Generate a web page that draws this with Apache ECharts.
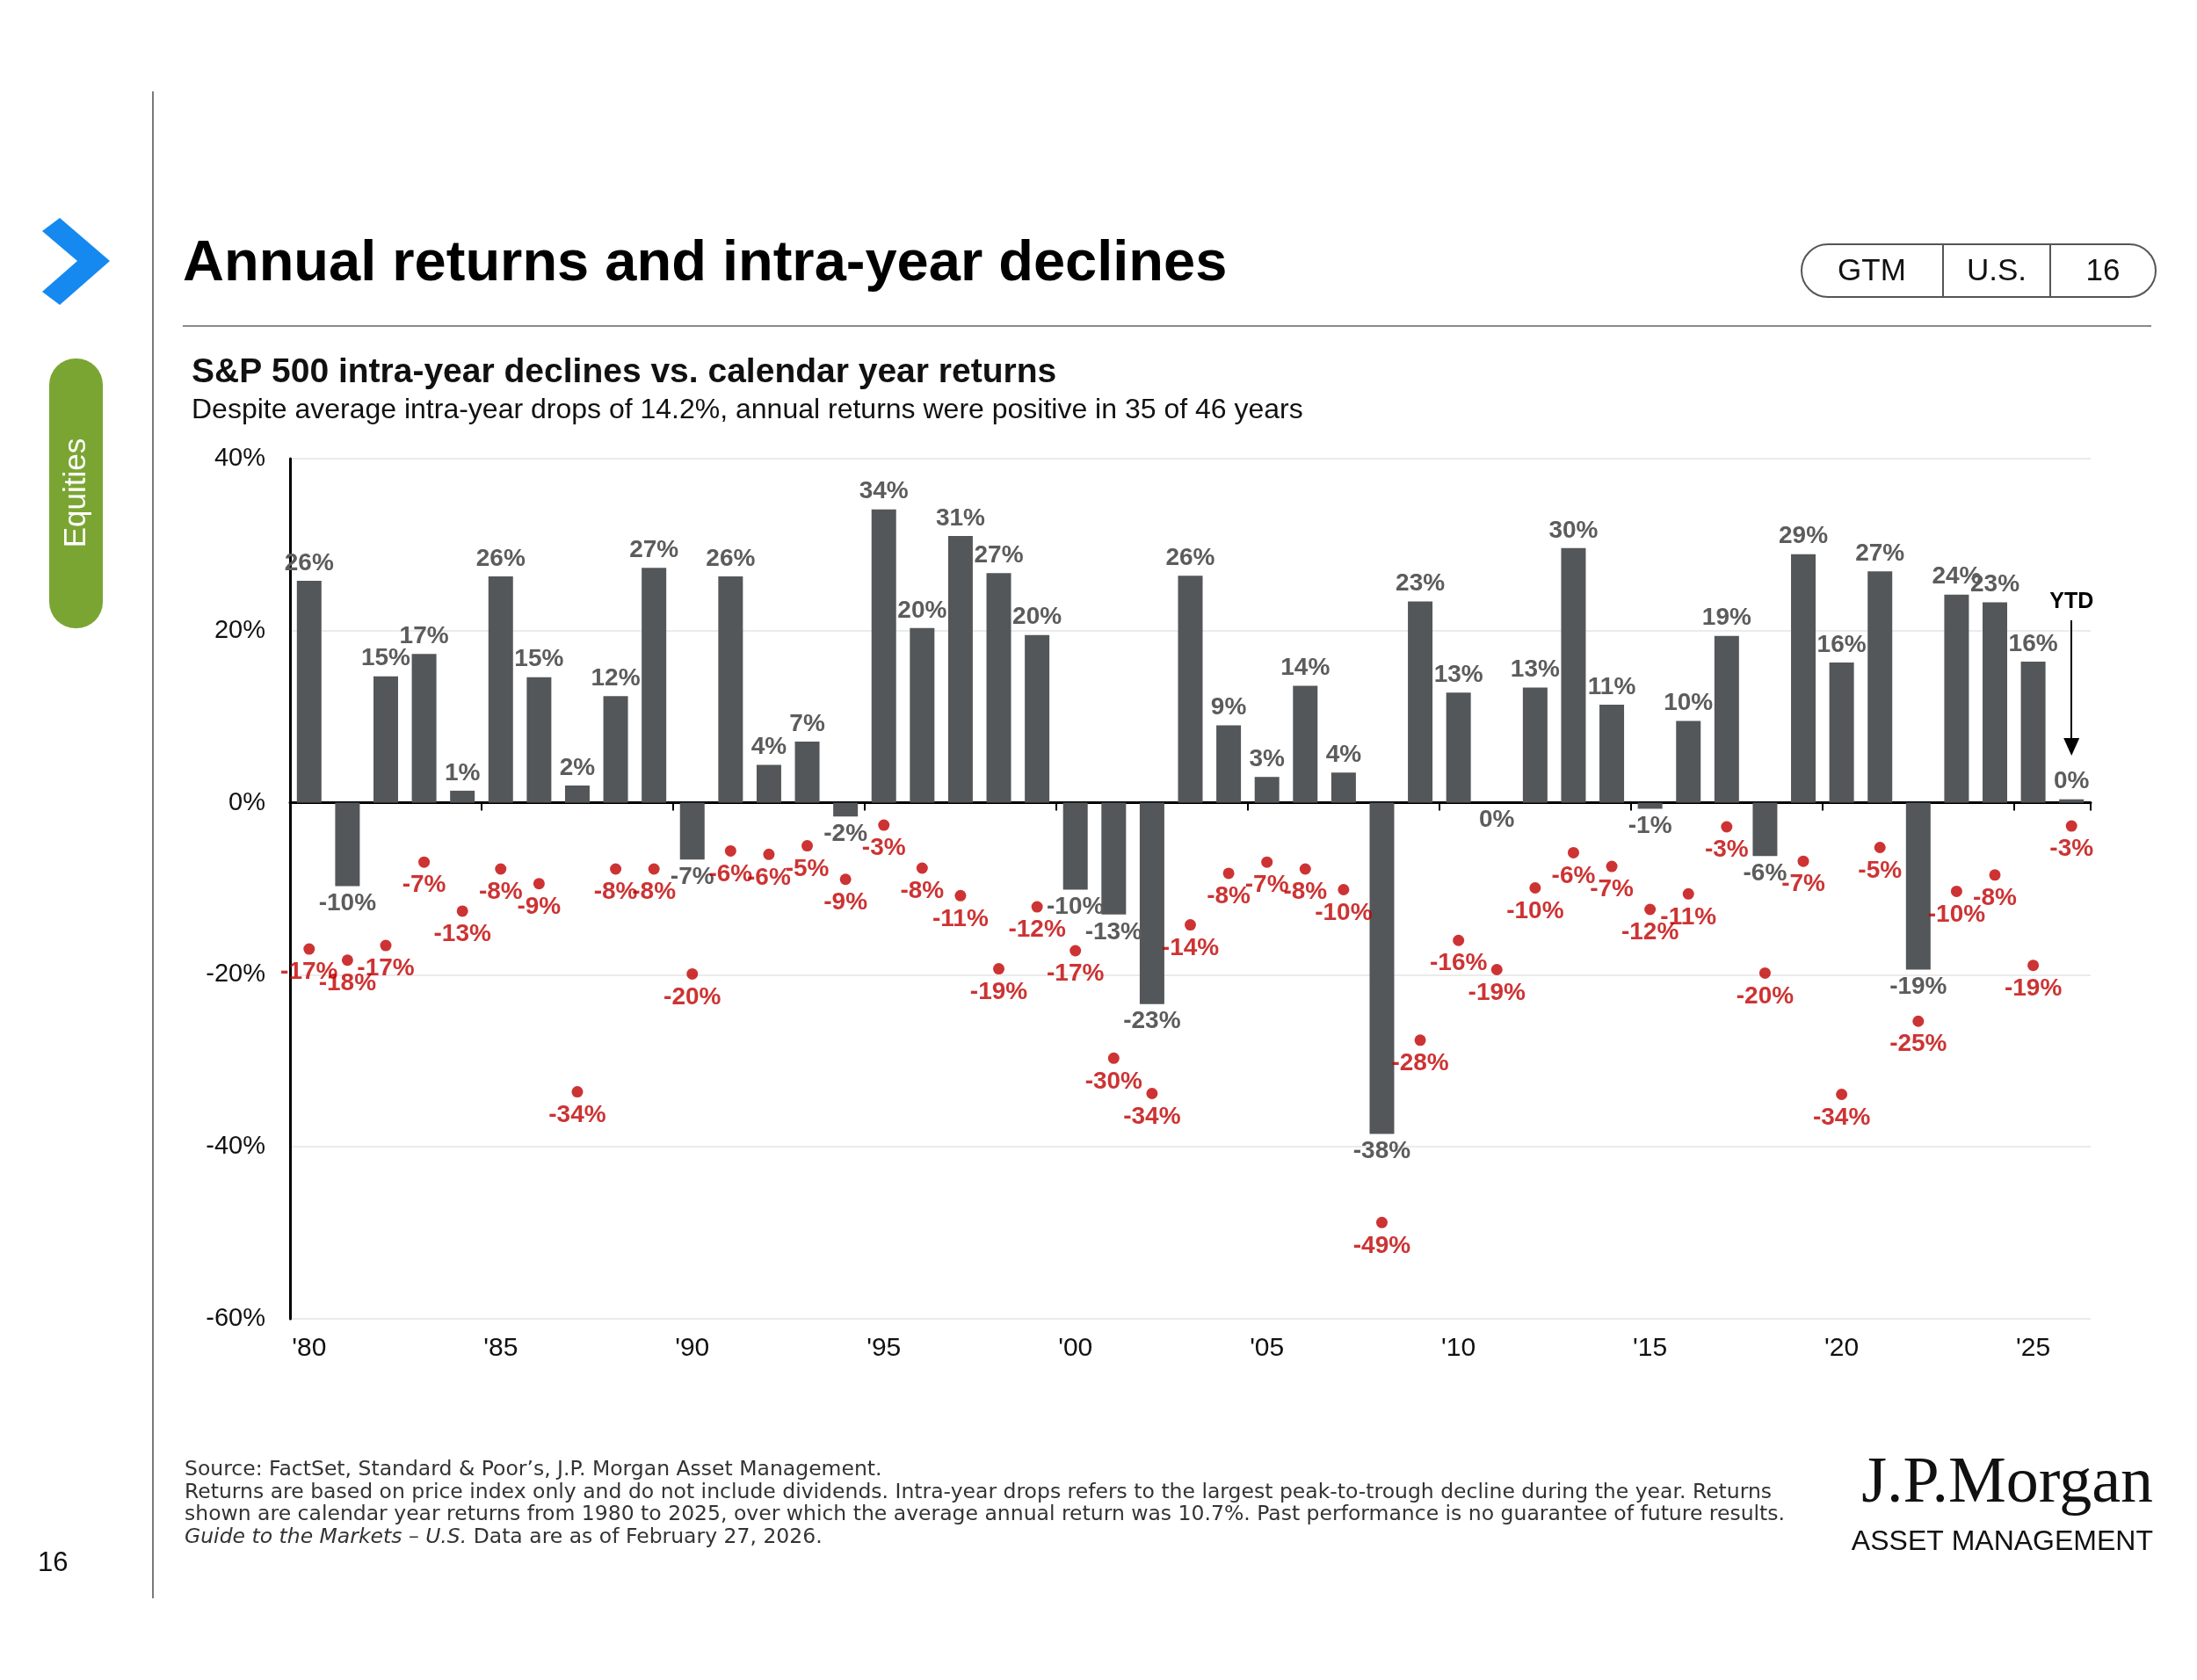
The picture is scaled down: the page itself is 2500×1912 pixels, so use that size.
<!DOCTYPE html>
<html>
<head>
<meta charset="utf-8">
<script src="https://cdn.jsdelivr.net/npm/echarts@6/dist/echarts.min.js"></script>
<style>
html,body{margin:0;padding:0;background:#fff;}
#chart{width:2500px;height:1912px;}
</style>
</head>
<body>
<div id="chart"></div>
<script>
// ---- Data ----
const years = ['1980','1981','1982','1983','1984','1985','1986','1987','1988','1989',
  '1990','1991','1992','1993','1994','1995','1996','1997','1998','1999',
  '2000','2001','2002','2003','2004','2005','2006','2007','2008','2009',
  '2010','2011','2012','2013','2014','2015','2016','2017','2018','2019',
  '2020','2021','2022','2023','2024','2025','2026'];
const annualReturns = [25.8,-9.7,14.7,17.3,1.4,26.3,14.6,2.0,12.4,27.3,
  -6.6,26.3,4.4,7.1,-1.6,34.1,20.3,31.0,26.7,19.5,
  -10.1,-13.0,-23.4,26.4,9.0,3.0,13.6,3.5,-38.5,23.4,
  12.8,0.0,13.4,29.6,11.4,-0.7,9.5,19.4,-6.2,28.9,
  16.3,26.9,-19.4,24.2,23.3,16.4,0.4];
const intraYearDeclines = [-17.0,-18.3,-16.6,-6.9,-12.6,-7.7,-9.4,-33.6,-7.7,-7.7,
  -19.9,-5.6,-6.0,-5.0,-8.9,-2.6,-7.6,-10.8,-19.3,-12.1,
  -17.2,-29.7,-33.8,-14.2,-8.2,-6.9,-7.7,-10.1,-48.8,-27.6,
  -16.0,-19.4,-9.9,-5.8,-7.4,-12.4,-10.6,-2.8,-19.8,-6.8,
  -33.9,-5.2,-25.4,-10.3,-8.4,-18.9,-2.7];
const yTicks = [40,20,0,-20,-40,-60];

const FONT = '"Liberation Sans", Arial, Helvetica, sans-serif';
const chart = echarts.init(document.getElementById('chart'), null, {renderer:'canvas'});
const pct = p => Math.round(p.value) + '%';

const option = {
  backgroundColor:'#fff',
  animation:false,
  textStyle:{fontFamily:FONT},
  grid:{left:330, right:121, top:522, bottom:411, containLabel:false},
  xAxis:[
    {
      type:'category', data:years, position:'bottom',
      axisLine:{show:true, onZero:true, lineStyle:{color:'#000', width:3}},
      axisTick:{show:true, length:9, lineStyle:{color:'#000', width:2},
        interval:(i)=> i>0 && i%5===0},
      axisLabel:{show:false},
      splitLine:{show:false}
    },
    {
      type:'category', data:years, position:'bottom',
      axisLine:{show:false, onZero:false},
      axisTick:{show:false},
      axisLabel:{show:true, interval:4, margin:19, fontSize:30, color:'#111', fontFamily:FONT,
        formatter:(v)=>"'" + v.slice(2)},
      splitLine:{show:false}
    }
  ],
  yAxis:{
    type:'value', min:yTicks[yTicks.length-1], max:yTicks[0], interval:20,
    axisLine:{show:true, onZero:false, lineStyle:{color:'#000', width:3}},
    axisTick:{show:false},
    axisLabel:{fontSize:29, color:'#111', margin:28, fontFamily:FONT, formatter:(v)=>v+'%'},
    splitLine:{show:true, lineStyle:{color:'#e4e4e4', width:1.5}}
  },
  series:[
    {
      name:'Calendar year return', type:'bar', xAxisIndex:0, data:annualReturns,
      barWidth:28,
      itemStyle:{color:'#53575a'},
      label:{show:true, position:'outside', distance:6, fontSize:28, fontWeight:'bold',
        color:'#5c5c5c', fontFamily:FONT, formatter:pct},
      markLine:{
        silent:true, symbol:['none','triangle'], symbolSize:[18,20], animation:false,
        lineStyle:{color:'#000', width:2, type:'solid'},
        label:{show:true, position:'start', formatter:'YTD', color:'#000', fontSize:25,
          fontWeight:'bold', fontFamily:FONT, distance:8},
        data:[[{coord:['2026', 21.2]}, {coord:['2026', 6.5]}]]
      },
      z:2
    },
    {
      name:'Intra-year decline', type:'scatter', xAxisIndex:0, data:intraYearDeclines,
      symbol:'circle', symbolSize:13,
      itemStyle:{color:'#c00000'},
      label:{show:true, position:'bottom', distance:6, fontSize:28, fontWeight:'bold',
        color:'#c00000', fontFamily:FONT, formatter:pct},
      z:3
    }
  ],
  graphic:[
    {type:'line', shape:{x1:174,y1:104,x2:174,y2:1819}, style:{stroke:'#7a7a7a', lineWidth:2}},
    {type:'polygon', shape:{points:[[48,263],[68,248],[125,297],[68,347],[48,332],[88,297]]},
      style:{fill:'#1589f0'}},
    {type:'rect', shape:{x:56,y:408,width:61,height:307,r:30}, style:{fill:'#7ba532'}},
    {type:'text', x:87, y:561, rotation:Math.PI/2,
      style:{text:'Equities', fill:'#fff', fontSize:35, fontFamily:FONT, align:'center', verticalAlign:'middle'}},
    {type:'text', style:{text:'Annual returns and intra-year declines', x:208, y:301, fill:'#000',
      fontSize:65, fontWeight:'bold', fontFamily:FONT, verticalAlign:'middle'}},
    {type:'rect', shape:{x:2050,y:278,width:403,height:60,r:30}, style:{fill:'#fff', stroke:'#555', lineWidth:2}},
    {type:'line', shape:{x1:2211,y1:278,x2:2211,y2:338}, style:{stroke:'#555', lineWidth:2}},
    {type:'line', shape:{x1:2333,y1:278,x2:2333,y2:338}, style:{stroke:'#555', lineWidth:2}},
    {type:'text', style:{text:'GTM', x:2130, y:309, fill:'#111', fontSize:35, fontFamily:FONT, align:'center', verticalAlign:'middle'}},
    {type:'text', style:{text:'U.S.', x:2272, y:309, fill:'#111', fontSize:35, fontFamily:FONT, align:'center', verticalAlign:'middle'}},
    {type:'text', style:{text:'16', x:2393, y:309, fill:'#111', fontSize:35, fontFamily:FONT, align:'center', verticalAlign:'middle'}},
    {type:'line', shape:{x1:208,y1:371,x2:2448,y2:371}, style:{stroke:'#8a8a8a', lineWidth:2}},
    {type:'text', style:{text:'S&P 500 intra-year declines vs. calendar year returns', x:218, y:424, fill:'#111',
      fontSize:39, fontWeight:'bold', fontFamily:FONT, verticalAlign:'middle'}},
    {type:'text', style:{text:'Despite average intra-year drops of 14.2%, annual returns were positive in 35 of 46 years', x:218, y:467, fill:'#111',
      fontSize:32, fontFamily:FONT, verticalAlign:'middle'}},
    {type:'text', style:{
      text:'Source: FactSet, Standard & Poor\u2019s, J.P. Morgan Asset Management.\nReturns are based on price index only and do not include dividends. Intra-year drops refers to the largest peak-to-trough decline during the year. Returns\nshown are calendar year returns from 1980 to 2025, over which the average annual return was 10.7%. Past performance is no guarantee of future results.\n{i|Guide to the Markets \u2013 U.S.} Data are as of February 27, 2026.',
      x:210, y:1660, fill:'#333', fontSize:23.5, lineHeight:25.6, fontFamily:'"DejaVu Sans", sans-serif',
      rich:{i:{fontStyle:'italic', fontSize:23.5, fill:'#333', fontFamily:'"DejaVu Sans", sans-serif', lineHeight:25.6}}}},
    {type:'text', style:{text:'J.P.Morgan', x:2450, y:1690, fill:'#111', fontSize:74,
      fontFamily:'"Liberation Serif", "Times New Roman", serif', align:'right', verticalAlign:'middle'}},
    {type:'text', style:{text:'ASSET MANAGEMENT', x:2450, y:1755, fill:'#111', fontSize:32,
      fontFamily:FONT, align:'right', verticalAlign:'middle'}},
    {type:'text', style:{text:'16', x:43, y:1779, fill:'#111', fontSize:31, fontFamily:FONT, verticalAlign:'middle'}}
  ]
};
chart.setOption(option);
</script>
</body>
</html>
